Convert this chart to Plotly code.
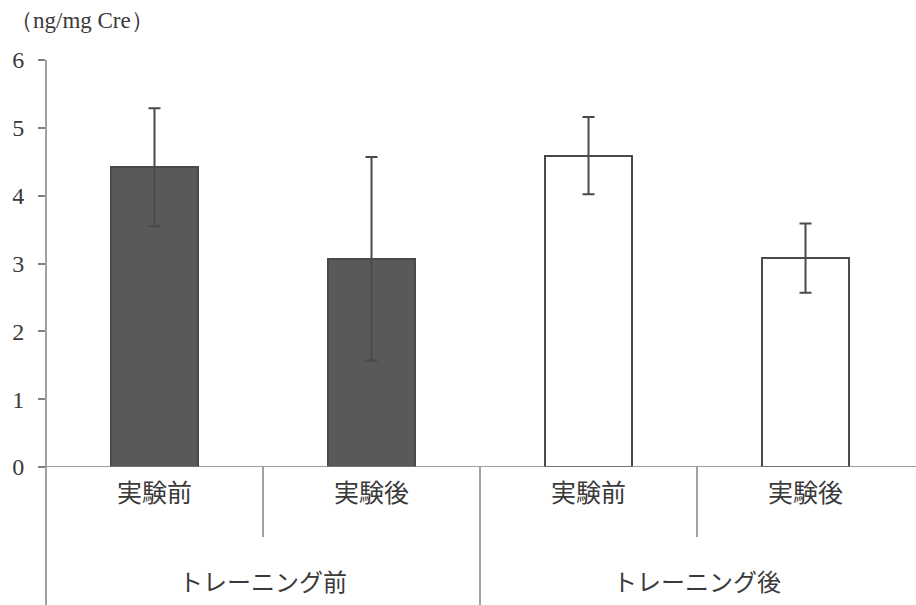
import plotly.graph_objects as go

# Creatinine-corrected values, mean and SD
conditions = ["実験前", "実験後", "実験前", "実験後"]
groups = ["トレーニング前", "トレーニング後"]
means = [4.42, 3.07, 4.59, 3.08]
sds = [0.87, 1.50, 0.57, 0.51]
fill_colors = ["#595959", "#595959", "#ffffff", "#ffffff"]
y_ticks = [0, 1, 2, 3, 4, 5, 6]
unit_label = "（ng/mg Cre）"

serif = "Liberation Serif, Times New Roman, serif"
cjk = "Noto Sans CJK JP, sans-serif"
axis_grey = "#808080"
ink = "#3a3a3a"

x_pos = list(range(len(conditions)))

fig = go.Figure()
fig.add_trace(go.Bar(
    x=x_pos,
    y=means,
    width=0.4,
    marker=dict(color=fill_colors, line=dict(color="#4a4a4a", width=2)),
    error_y=dict(type="data", array=sds, visible=True,
                 color="#4a4a4a", thickness=2, width=6),
    showlegend=False,
))

shapes = []
# x axis baseline at zero, running into the left tick area
shapes.append(dict(type="line", xref="paper", yref="y", x0=-7 / 870, x1=1,
                   y0=0, y1=0, line=dict(color=axis_grey, width=1.5)))
# y axis line continuing down through the label rows
shapes.append(dict(type="line", xref="paper", yref="paper", x0=0, x1=0,
                   y0=-138 / 407, y1=1, line=dict(color=axis_grey, width=1.5)))
# short dividers between conditions within each group
for b in [0.5, 2.5]:
    shapes.append(dict(type="line", xref="x", yref="paper", x0=b, x1=b,
                       y0=0, y1=-70 / 407, line=dict(color=axis_grey, width=1.5)))
# long divider between the two groups
shapes.append(dict(type="line", xref="x", yref="paper", x0=1.5, x1=1.5,
                   y0=0, y1=-138 / 407, line=dict(color=axis_grey, width=1.5)))

annotations = []
for xp, name in zip(x_pos, conditions):
    annotations.append(dict(x=xp, y=-24 / 407, xref="x", yref="paper",
                            text=name, showarrow=False, yanchor="middle",
                            font=dict(family=cjk, size=25, color=ink)))
for gi, name in enumerate(groups):
    annotations.append(dict(x=0.5 + 2 * gi, y=-113 / 407, xref="x", yref="paper",
                            text=name, showarrow=False, yanchor="middle",
                            font=dict(family=cjk, size=24, color=ink)))
annotations.append(dict(x=-38 / 870, y=1 + 40 / 407, xref="x domain",
                        yref="y domain", text=unit_label, showarrow=False,
                        xanchor="left", yanchor="middle",
                        font=dict(family=serif, size=23, color=ink)))

fig.update_layout(
    width=916, height=605,
    margin=dict(l=46, r=0, t=60, b=138),
    paper_bgcolor="white", plot_bgcolor="white",
    bargap=0,
    shapes=shapes,
    annotations=annotations,
    xaxis=dict(range=[-0.5, 3.5 + 2 / 218], showticklabels=False,
               showline=False, showgrid=False, zeroline=False, ticks=""),
    yaxis=dict(range=[0, 6], tickvals=y_ticks, ticks="outside", ticklen=7,
               tickwidth=1.5, tickcolor=axis_grey, showgrid=False,
               zeroline=False, showline=False, ticklabelstandoff=9,
               tickfont=dict(family=serif, size=24, color=ink)),
)

fig.write_html("out.html")
